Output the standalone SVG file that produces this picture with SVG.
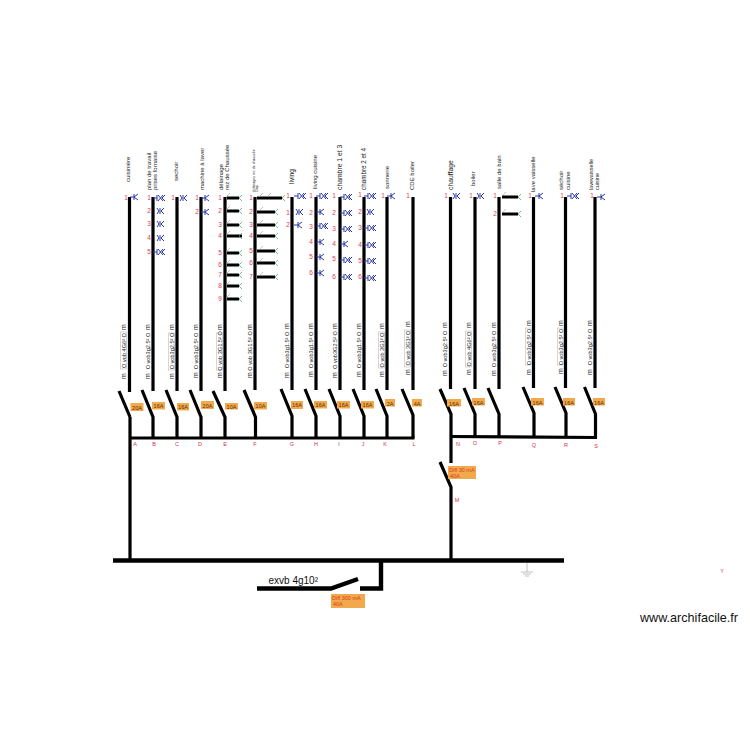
<svg xmlns="http://www.w3.org/2000/svg" width="750" height="750" viewBox="0 0 750 750">
<style>
text{font-family:"Liberation Sans",Arial,sans-serif}
.w{fill:none;stroke:#000;stroke-width:3.2}
.mb{fill:none;stroke:#000;stroke-width:4.4}
.t{font-size:6px;fill:#222;text-anchor:start}
.n{font-size:6.5px;fill:#e0404f;text-anchor:middle}
.l{font-size:5.5px;fill:#d8304a;text-anchor:middle}
.m{font-size:7px;fill:#222;text-anchor:middle}
.c{font-size:5.6px;fill:#222;text-anchor:middle}
.g{fill:#fff;stroke:#bbb;stroke-width:.6}
.o{fill:#f2a84c}
.a{font-size:5.5px;fill:#5a3000;text-anchor:middle}
.d{font-size:5.5px;fill:#d8401a}
.b{fill:none;stroke:#2a36a8;stroke-width:1}
.s{stroke:#000;stroke-width:2.8}
.h{fill:none;stroke:#38a060;stroke-width:.7}
.u{fill:none;stroke:#999;stroke-width:.6}
</style>
<defs>
<path id="k" class="b" d="M-4 0H0M0-3V3M4-3 0 0 4 3"/>
<path id="q" class="b" d="M0-3V3M4-3 1 0 4 3M-3-3-1 0-3 3"/>
<path id="x" class="b" d="M-4 0H0M0-3V3M1-3 6 3M1 3 6-3M8-3 5 0 8 3"/>
<path id="e" class="h" d="M3-3 0 0 3 3"/>
<path id="v" class="u" d="M-3 0 1-4"/>
</defs>
<g id="connectors">
<path class="w" d="M129.500 197V392M130 417V560M119 391 130 417"/>
<path class="w" d="M153 197V391M142 390 153 417V438"/>
<path class="w" d="M177 197V391M166 390 177 417V438"/>
<path class="w" d="M201 197V391M190 390 201 417V438"/>
<path class="w" d="M225 197V391M213 391 225 417V438"/>
<path class="w" d="M255 197V390M244 390 255.500 417V438"/>
<path class="w" d="M292 197V390M281 389 292 416V438"/>
<path class="w" d="M316 197V390M305 389 316 416V438"/>
<path class="w" d="M340 197V390M329 389 340 416V438"/>
<path class="w" d="M364 197V390M353 389 364 416V438"/>
<path class="w" d="M387 197V390M376 389 387 416V438"/>
<path class="w" d="M413 197V390M402 389 413 415V438"/>
<path class="w" d="M450.500 197V389M440 389 451 414V463M440 462 451 487V560"/>
<path class="w" d="M475 197V389M464 388 475 414V437"/>
<path class="w" d="M499 197V389M488 388 499 414V437"/>
<path class="w" d="M533.500 197V388M523 387 534 413V437"/>
<path class="w" d="M565.500 197V388M555 387 566 413V437"/>
<path class="w" d="M595 197V388M584.500 387 595.500 414V438"/>
<path class="w" d="M129 438H414.500M450 436.500 597 437.500"/>
<path class="mb" d="M113 560.500H564"/>
<path class="mb" d="M257 588.500H331L358 579M360 588.500H381V561"/>
<path class="s" d="M227 198H239M227 211H239M227 225H239M227 236H242M227 253H239M227 265H239M227 275H239M227 286H239M227 299H239"/>
<path class="s" d="M257 198H282M257 212H275M257 225H275M257 236H275M257 251H275M257 263H275M257 277H275"/>
<path class="s" d="M502 197H518M502 214H518"/>
</g>
<g id="circuit-A">
<text class="t" transform="translate(130,182) rotate(-90)">cuisinière</text>
<text class="n" x="126" y="200">1</text><use href="#k" x="134" y="197"/>
<text class="m" transform="translate(126,327) rotate(-90)">m</text><text class="m" transform="translate(126,376) rotate(-90)">m</text>
<rect class="g" x="120.500" y="332" width="6" height="37"/><text class="c" transform="translate(125.500,350.500) rotate(-90)">O vob 4G6² O</text>
<rect class="o" x="130.500" y="403" width="13" height="8"/><text class="a" x="137" y="409.500">20A</text><text class="l" x="135" y="446">A</text>
</g>
<g id="circuit-B">
<text class="t" transform="translate(151,190) rotate(-90)">plan de travail</text><text class="t" transform="translate(157,190) rotate(-90)">prises fornaise</text>
<text class="n" x="149" y="200">1</text><text class="n" x="149" y="213">2</text><text class="n" x="149" y="226">3</text><text class="n" x="149" y="240">4</text><text class="n" x="149" y="254">5</text>
<use href="#x" x="157" y="198"/><use href="#q" x="160" y="211"/><use href="#q" x="160" y="224"/><use href="#q" x="160" y="238"/><use href="#x" x="157" y="252"/>
<text class="m" transform="translate(150,327) rotate(-90)">m</text><text class="m" transform="translate(150,376) rotate(-90)">m</text>
<text class="c" transform="translate(149.500,351) rotate(-90)">O vob3g2.5² O</text>
<rect class="o" x="152" y="402" width="13" height="7.500"/><text class="a" x="158.500" y="408">16A</text><text class="l" x="154" y="446">B</text>
</g>
<g id="circuit-C">
<text class="t" transform="translate(178,181) rotate(-90)">sechoir</text>
<text class="n" x="173" y="200">1</text><use href="#q" x="183" y="198"/>
<text class="m" transform="translate(174,327) rotate(-90)">m</text><text class="m" transform="translate(174,376) rotate(-90)">m</text>
<rect class="g" x="168.500" y="333" width="6" height="37"/><text class="c" transform="translate(173.500,351) rotate(-90)">O vob3g2.5² O</text>
<rect class="o" x="177" y="403" width="12" height="7.500"/><text class="a" x="183" y="409">16A</text><text class="l" x="177" y="446">C</text>
</g>
<g id="circuit-D">
<text class="t" transform="translate(204,190) rotate(-90)">machine à laver</text>
<text class="n" x="197" y="200">1</text><text class="n" x="197" y="214">2</text><use href="#k" x="205" y="198"/><use href="#k" x="205" y="212"/>
<text class="m" transform="translate(198,327) rotate(-90)">m</text><text class="m" transform="translate(198,375) rotate(-90)">m</text>
<text class="c" transform="translate(197.500,351) rotate(-90)">O vob3g2.5² O</text>
<rect class="o" x="201" y="401" width="13" height="8"/><text class="a" x="207.500" y="407.500">20A</text><text class="l" x="200" y="446">D</text>
</g>
<g id="circuit-E">
<text class="t" transform="translate(223,190) rotate(-90)">délainage</text><text class="t" transform="translate(229,190) rotate(-90)">rez de Chaussée</text>
<text class="n" x="220" y="200">1</text><text class="n" x="220" y="213">2</text><text class="n" x="220" y="227">3</text><text class="n" x="220" y="238">4</text><text class="n" x="220" y="255">5</text><text class="n" x="220" y="267">6</text><text class="n" x="220" y="277">7</text><text class="n" x="220" y="288">8</text><text class="n" x="220" y="301">9</text>
<use href="#v" x="229" y="197"/><use href="#e" x="239" y="198"/><use href="#v" x="229" y="210"/><use href="#e" x="239" y="211"/><use href="#v" x="229" y="224"/><use href="#e" x="239" y="225"/><use href="#v" x="229" y="235"/><use href="#e" x="239" y="236"/><use href="#v" x="229" y="252"/><use href="#e" x="239" y="253"/><use href="#v" x="229" y="264"/><use href="#e" x="239" y="265"/><use href="#v" x="229" y="274"/><use href="#e" x="239" y="275"/><use href="#v" x="229" y="285"/><use href="#e" x="239" y="286"/><use href="#v" x="229" y="298"/><use href="#e" x="239" y="299"/>
<text class="m" transform="translate(222,327) rotate(-90)">m</text><text class="m" transform="translate(222,375) rotate(-90)">m</text>
<rect class="g" x="216.500" y="333" width="6" height="37"/><text class="c" transform="translate(221.500,351) rotate(-90)">O vob 3G1.5² O</text>
<rect class="o" x="225" y="403" width="13" height="6.500"/><text class="a" x="231.500" y="408.500">10A</text><text class="l" x="225" y="446">E</text>
</g>
<g id="circuit-F">
<text class="t" style="font-size:3.500px" transform="translate(254.500,192) rotate(-90)">éclairages rez de chaussée</text><text class="t" style="font-size:3.500px" transform="translate(258,192) rotate(-90)">Gap</text>
<text class="n" x="251" y="200">1</text><text class="n" x="251" y="214">2</text><text class="n" x="251" y="227">3</text><text class="n" x="251" y="238">4</text><text class="n" x="251" y="253">5</text><text class="n" x="251" y="265">6</text><text class="n" x="251" y="279">7</text>
<use href="#v" x="262" y="197"/><use href="#v" x="270" y="197"/><use href="#e" x="282" y="198"/><use href="#v" x="262" y="211"/><use href="#e" x="275" y="212"/><use href="#v" x="262" y="224"/><use href="#e" x="275" y="225"/><use href="#v" x="262" y="235"/><use href="#e" x="275" y="236"/><use href="#v" x="262" y="250"/><use href="#e" x="275" y="251"/><use href="#v" x="262" y="262"/><use href="#e" x="275" y="263"/><use href="#v" x="262" y="276"/><use href="#e" x="275" y="277"/>
<text class="m" transform="translate(252,327) rotate(-90)">m</text><text class="m" transform="translate(252,375) rotate(-90)">m</text>
<text class="c" transform="translate(251.500,351) rotate(-90)">O vob 3G1.5² O</text>
<rect class="o" x="254" y="402" width="13" height="7.500"/><text class="a" x="260.500" y="408">10A</text><text class="l" x="255" y="446">F</text>
</g>
<g id="circuit-G">
<text class="t" style="font-size:6.500px" transform="translate(293.500,184) rotate(-90)">living</text>
<text class="n" x="288" y="198">1</text><text class="n" x="288" y="215">1</text><text class="n" x="288" y="227">2</text><use href="#x" x="298" y="196"/><use href="#q" x="299" y="212"/><use href="#k" x="298" y="225"/>
<text class="m" transform="translate(289,326) rotate(-90)">m</text><text class="m" transform="translate(289,375) rotate(-90)">m</text>
<text class="c" transform="translate(288.500,350) rotate(-90)">O vob3g1.5² O</text>
<rect class="o" x="291" y="401" width="12" height="8"/><text class="a" x="297" y="407">16A</text><text class="l" x="292" y="446">G</text>
</g>
<g id="circuit-H">
<text class="t" style="font-size:6px" transform="translate(317,189) rotate(-90)">living cuisine</text>
<text class="n" x="311" y="198">1</text><text class="n" x="311" y="215">2</text><text class="n" x="311" y="229">3</text><text class="n" x="311" y="244">4</text><text class="n" x="311" y="259">5</text><text class="n" x="311" y="275">6</text>
<use href="#x" x="320" y="196"/><use href="#k" x="320" y="212"/><use href="#x" x="320" y="226"/><use href="#k" x="320" y="242"/><use href="#k" x="320" y="257"/><use href="#k" x="320" y="273"/>
<text class="m" transform="translate(313,326) rotate(-90)">m</text><text class="m" transform="translate(313,374) rotate(-90)">m</text>
<text class="c" transform="translate(312.500,350) rotate(-90)">O vob3g1.5² O</text>
<rect class="o" x="314" y="401" width="13" height="7.500"/><text class="a" x="320.500" y="407">16A</text><text class="l" x="316" y="446">H</text>
</g>
<g id="circuit-I">
<text class="t" style="font-size:6.800px" transform="translate(341.500,190) rotate(-90)">chambre 1 et 3</text>
<text class="n" x="334" y="198">1</text><text class="n" x="334" y="215">2</text><text class="n" x="334" y="231">3</text><text class="n" x="334" y="246">4</text><text class="n" x="334" y="261">5</text><text class="n" x="334" y="279">6</text>
<use href="#x" x="344" y="197"/><use href="#x" x="344" y="213"/><use href="#x" x="344" y="229"/><use href="#k" x="344" y="244"/><use href="#x" x="344" y="260"/><use href="#x" x="344" y="277"/>
<text class="m" transform="translate(337,326) rotate(-90)">m</text><text class="m" transform="translate(337,375) rotate(-90)">m</text>
<text class="c" transform="translate(336.500,350) rotate(-90)">O vob3G2.5² O</text>
<rect class="o" x="337" y="401" width="13" height="7.500"/><text class="a" x="343.500" y="407">16A</text><text class="l" x="339" y="446">I</text>
</g>
<g id="circuit-J">
<text class="t" style="font-size:6.300px" transform="translate(365.500,190) rotate(-90)">chambre 2 et 4</text>
<text class="n" x="360" y="197">1</text><text class="n" x="360" y="214">2</text><text class="n" x="360" y="230">3</text><text class="n" x="360" y="247">4</text><text class="n" x="360" y="263">5</text><text class="n" x="360" y="279">6</text>
<use href="#x" x="368" y="196"/><use href="#q" x="370" y="212"/><use href="#x" x="368" y="228"/><use href="#x" x="368" y="245"/><use href="#x" x="368" y="261"/><use href="#x" x="368" y="278"/>
<text class="m" transform="translate(361,326) rotate(-90)">m</text><text class="m" transform="translate(361,374) rotate(-90)">m</text>
<text class="c" transform="translate(360.500,350) rotate(-90)">O vob3g1.5² O</text>
<rect class="o" x="361" y="401" width="13" height="7.500"/><text class="a" x="367.500" y="407">16A</text><text class="l" x="363" y="446">J</text>
</g>
<g id="circuit-K">
<text class="t" style="font-size:6px" transform="translate(388.500,189) rotate(-90)">sonnerie</text>
<text class="n" x="383" y="198">1</text><use href="#k" x="391" y="196"/>
<text class="m" transform="translate(384,326) rotate(-90)">m</text><text class="m" transform="translate(384,374) rotate(-90)">m</text>
<rect class="g" x="378.500" y="332" width="6" height="36"/><text class="c" transform="translate(383.500,350) rotate(-90)">O vob 3G1² O</text>
<rect class="o" x="385" y="399" width="10" height="7.500"/><text class="a" x="390" y="405.500">2A</text><text class="l" x="385" y="446">K</text>
</g>
<g id="circuit-L">
<text class="t" style="font-size:6px" transform="translate(414,190) rotate(-90)">CDE boiler</text>
<text class="n" x="408" y="198">1</text>
<text class="m" transform="translate(410,324) rotate(-90)">m</text><text class="m" transform="translate(410,372) rotate(-90)">m</text>
<rect class="g" x="404.500" y="330" width="6" height="37"/><text class="c" transform="translate(409.500,348) rotate(-90)">O vob 3G1² O</text>
<rect class="o" x="412" y="399" width="10" height="7.500"/><text class="a" x="417" y="405.500">4A</text><text class="l" x="414" y="446">L</text>
</g>
<g id="circuit-N">
<text class="t" style="font-size:6.800px" transform="translate(453,190) rotate(-90)">chauffage</text>
<text class="n" x="446" y="198">1</text><use href="#q" x="456" y="196"/>
<text class="m" transform="translate(447,325) rotate(-90)">m</text><text class="m" transform="translate(447,373) rotate(-90)">m</text>
<text class="c" transform="translate(446.500,349) rotate(-90)">O vob3g2.5² O</text>
<rect class="o" x="447" y="399" width="14" height="7.500"/><text class="a" x="454" y="405.500">16A</text><text class="l" x="458" y="446">N</text>
</g>
<g id="circuit-O">
<text class="t" transform="translate(475,186) rotate(-90)">boiler</text>
<text class="n" x="471" y="198">1</text><use href="#q" x="480" y="196"/>
<text class="m" transform="translate(471,325) rotate(-90)">m</text><text class="m" transform="translate(471,372) rotate(-90)">m</text>
<rect class="g" x="465.500" y="331" width="6" height="36"/><text class="c" transform="translate(470.500,349) rotate(-90)">O vob 4G6² O</text>
<rect class="o" x="472" y="398" width="13" height="7.500"/><text class="a" x="478.500" y="404.500">16A</text><text class="l" x="475" y="445">O</text>
</g>
<g id="circuit-P">
<text class="t" transform="translate(501,189) rotate(-90)">salle de bain</text>
<text class="n" x="495" y="198">1</text><text class="n" x="495" y="216">2</text>
<use href="#v" x="505" y="196"/><use href="#e" x="518" y="197"/><use href="#v" x="505" y="213"/><use href="#e" x="518" y="214"/>
<text class="m" transform="translate(496,325) rotate(-90)">m</text><text class="m" transform="translate(496,373) rotate(-90)">m</text>
<text class="c" transform="translate(495.500,349) rotate(-90)">O vob3g2.5² O</text>
<text class="l" x="500" y="445">P</text>
</g>
<g id="circuit-Q">
<text class="t" transform="translate(535,192) rotate(-90)">lave vaisselle</text>
<text class="n" x="530" y="198">1</text><use href="#k" x="539" y="196"/>
<text class="m" transform="translate(531,323) rotate(-90)">m</text><text class="m" transform="translate(531,372) rotate(-90)">m</text>
<rect class="g" x="525.500" y="328" width="6" height="37"/><text class="c" transform="translate(530.500,347) rotate(-90)">O vob3g2.5² O</text>
<rect class="o" x="531" y="398" width="13" height="7.500"/><text class="a" x="537.500" y="404.500">16A</text><text class="l" x="534" y="447">Q</text>
</g>
<g id="circuit-R">
<text class="t" transform="translate(563,190) rotate(-90)">séchoir</text><text class="t" transform="translate(570,190) rotate(-90)">cuisine</text>
<text class="n" x="562" y="198">1</text><use href="#x" x="571" y="196"/>
<text class="m" transform="translate(563,323) rotate(-90)">m</text><text class="m" transform="translate(563,371) rotate(-90)">m</text>
<rect class="g" x="557.500" y="328" width="6" height="37"/><text class="c" transform="translate(562.500,347) rotate(-90)">O vob3g2.5² O</text>
<rect class="o" x="563" y="398" width="12" height="7.500"/><text class="a" x="569" y="404.500">16A</text><text class="l" x="566" y="447">R</text>
</g>
<g id="circuit-S">
<text class="t" style="font-size:5.500px" transform="translate(593,190) rotate(-90)">lavevaisselle</text><text class="t" style="font-size:5.500px" transform="translate(599,190) rotate(-90)">cuisine</text>
<text class="n" x="592" y="198">1</text><use href="#k" x="601" y="197"/>
<text class="m" transform="translate(592,323) rotate(-90)">m</text><text class="m" transform="translate(592,372) rotate(-90)">m</text>
<text class="c" transform="translate(591.500,347) rotate(-90)">O vob3g2.5² O</text>
<rect class="o" x="593" y="398" width="12" height="7.500"/><text class="a" x="599" y="404.500">16A</text><text class="l" x="596" y="448">S</text>
</g>
<g id="diff-M">
<rect class="o" x="448" y="466" width="28" height="13"/>
<text class="d" x="449" y="472">Diff 30 mA</text><text class="d" x="450" y="477.500">40A</text>
<text class="l" x="457" y="502">M</text>
</g>
<g id="main-switch">
<text x="268.500" y="584" font-size="10" fill="#111">exvb 4g10²</text>
<rect class="o" x="331" y="594" width="34" height="14"/>
<text class="d" x="332" y="600">Diff 300 mA</text><text class="d" x="333" y="606">40A</text>
</g>
<g id="earth"><path class="u" d="M527 563V572M521 572H533M523 574H531M525 576H529"/></g>
<text class="l" x="722" y="573">Y</text>
<text x="640" y="622" font-size="12.600" fill="#111">www.archifacile.fr</text>
</svg>
